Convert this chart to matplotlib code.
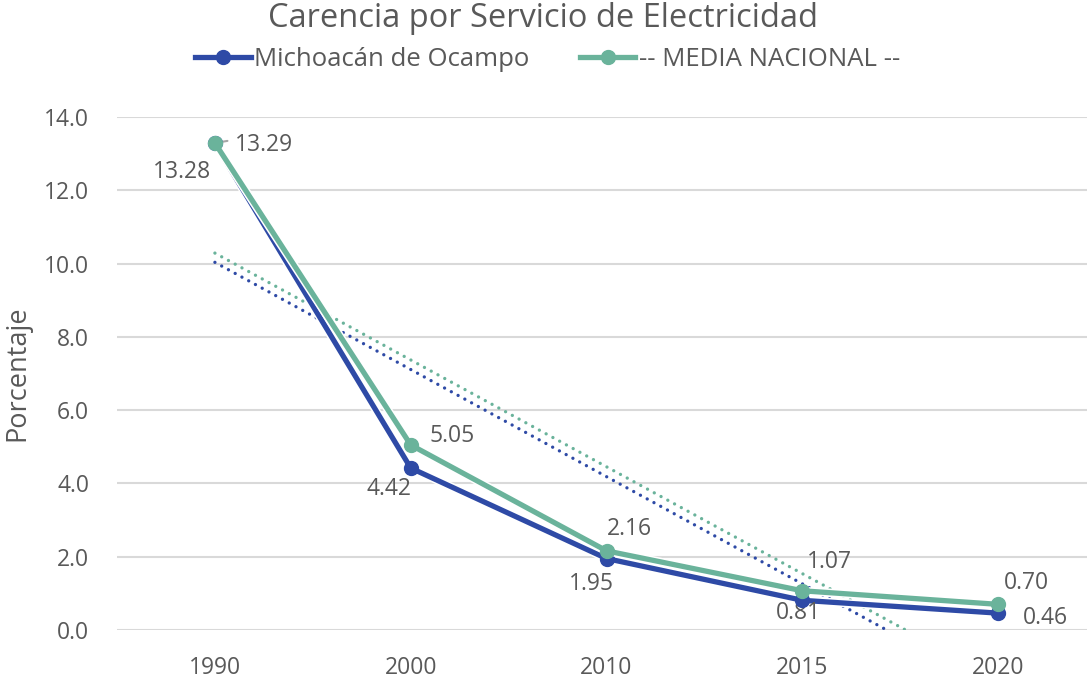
import numpy as np
import matplotlib
matplotlib.use("Agg")
import matplotlib.pyplot as plt
import matplotlib.patheffects as pe
from matplotlib.lines import Line2D

# data
years = ["1990", "2000", "2010", "2015", "2020"]
michoacan = [13.28, 4.42, 1.95, 0.81, 0.46]
nacional = [13.29, 5.05, 2.16, 1.07, 0.70]

# label offsets (pixels) for each data label
off_mich = [(-33, -29), (-22, -21), (-15, -25), (-4, -13), (47, -5)]
off_nac = [(49, -2), (41, 9), (23, 22), (27, 29), (28, 21)]

blue = "#2E4AA6"
green = "#6AB39B"
gray = "#595959"

plt.rcParams["font.family"] = ["Open Sans", "DejaVu Sans"]

fig = plt.figure(figsize=(10.87, 6.87), dpi=100)
ax = fig.add_axes([117 / 1087, 1 - 630 / 687, 1 - 117 / 1087, (630 - 117) / 687])

x = np.arange(len(years))
outline = [pe.Stroke(linewidth=6, foreground="white"), pe.Normal()]

# linear trendlines (like Excel), dotted
for vals, c in [(michoacan, blue), (nacional, green)]:
    k, b = np.polyfit(x + 1, vals, 1)
    ax.plot(x, k * (x + 1) + b, linestyle=(0, (0.01, 2.3)), color=c,
            linewidth=2.4, dash_capstyle="round", zorder=2)

for vals, c, z in [(michoacan, blue, 3), (nacional, green, 4)]:
    ax.plot(x, vals, color=c, linewidth=3.8, zorder=z, path_effects=outline,
            solid_capstyle="round")
    ax.plot(x, vals, linestyle="none", marker="o", markersize=10, color=c,
            zorder=z + 0.5)

for i in range(len(years)):
    ax.annotate(f"{michoacan[i]:.2f}", (x[i], michoacan[i]), xytext=off_mich[i],
                textcoords="offset pixels", ha="center", va="center",
                fontsize=16.5, color=gray)
    ax.annotate(f"{nacional[i]:.2f}", (x[i], nacional[i]), xytext=off_nac[i],
                textcoords="offset pixels", ha="center", va="center",
                fontsize=16.5, color=gray)
# leader line for 13.29
ax.annotate("", (x[0] + 0.01, nacional[0] + 0.01), xytext=(x[0] + 0.078, nacional[0] + 0.07),
            arrowprops=dict(arrowstyle="-", color="#A6A6A6", lw=1.5))

ax.set_ylim(0, 14)
ax.set_xlim(-0.5, (1087 - 215) / 195.8)
ax.set_yticks(np.arange(0, 14.1, 2))
ax.set_yticklabels([f"{v:.1f}" for v in np.arange(0, 14.1, 2)])
ax.set_xticks(x)
ax.set_xticklabels(years)
ax.tick_params(length=0, labelsize=16.5, labelcolor=gray)
ax.tick_params(axis="x", pad=19)
ax.tick_params(axis="y", pad=20)
ax.grid(axis="y", color="#D9D9D9", linewidth=1.5)
ax.set_axisbelow(True)
for s in ax.spines.values():
    s.set_visible(False)
ax.set_ylabel("Porcentaje", fontsize=19.5, color=gray)
ax.yaxis.set_label_coords(-86 / (1087 - 117), 0.5)

fig.suptitle("Carencia por Servicio de Electricidad", x=0.5, y=0.997,
             fontsize=23.5, color=gray)
handles = [Line2D([], [], color=blue, linewidth=3.8, marker="o", markersize=10),
           Line2D([], [], color=green, linewidth=3.8, marker="o", markersize=10)]
fig.legend(handles, ["Michoacán de Ocampo", "-- MEDIA NACIONAL --"],
           loc="center", bbox_to_anchor=(0.504, 1 - 59 / 687), ncol=2,
           frameon=False, fontsize=18.5, labelcolor=gray, handlelength=2.15,
           handletextpad=0.15, columnspacing=1.95)

fig.savefig("out.png", dpi=100)
